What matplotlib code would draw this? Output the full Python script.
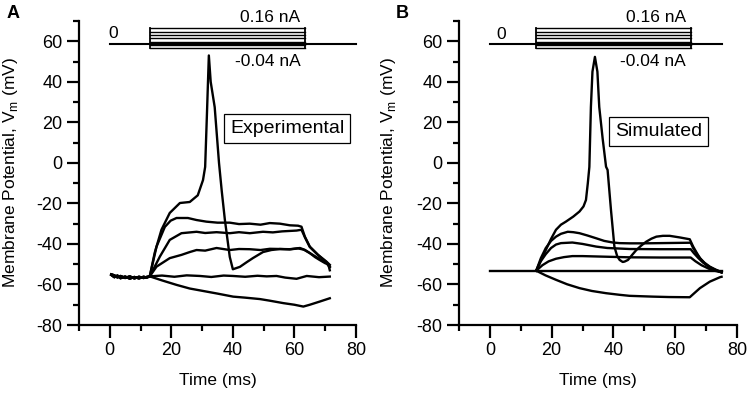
import matplotlib.pyplot as plt
from matplotlib.ticker import MultipleLocator

plt.rcParams["font.family"] = ["Liberation Sans", "DejaVu Sans"]
plt.rcParams["axes.unicode_minus"] = False

# stimulus protocol (nA) -- box levels and timing per panel
stim_levels = [-0.04, -0.007, 0.027, 0.06, 0.093, 0.127, 0.16]
stim_on = {"A": 13.0, "B": 15.0}
stim_off = {"A": 63.5, "B": 65.0}
stim_line_end = {"A": 80.0, "B": 75.0}

# experimental recordings (ms, mV)
exp_pre_t = [0.5, 1.5, 2.5, 3.5, 5.0, 6.5, 8.0, 9.5, 11.0, 12.0]
exp_pre_v1 = [-55.0, -55.5, -56.5, -55.8, -56.8, -56.0, -57.0, -56.2, -56.8, -56.3]
exp_pre_v2 = [-55.3, -56.4, -55.6, -56.9, -56.1, -57.1, -56.3, -57.0, -56.2, -56.6]

exp_spike_t = [13, 14.6, 16.8, 19.5, 22.8, 26, 28.6, 30.3, 31.0, 31.6, 32.2, 32.8, 34.1,
               35.5, 36.4, 37.4, 39, 40, 42.3, 44.5, 46.5, 49.8, 52.5, 55.3, 58.5, 61.8,
               63.5, 65, 66.7, 68.3, 70, 71, 71.5]
exp_spike_v = [-56, -44.4, -33, -24.7, -19.8, -19.3, -16, -8.5, -2, 25, 53, 40, 27.5,
               0, -14, -28, -46.4, -52.5, -51.3, -49, -47, -44, -43, -42.5, -42.6, -42,
               -43, -44.5, -46.5, -48, -49.5, -50, -53]

exp_step2_t = [13, 15.2, 17.9, 19.8, 21.7, 25.4, 28.2, 31.4, 35, 39, 42, 45.5, 49, 52,
               55.3, 58.5, 61.2, 62.3, 63.4, 65, 67.7, 70.4, 71.5]
exp_step2_v = [-56, -41.3, -31.6, -28.5, -27.2, -27.2, -28.2, -29, -29.5, -29.5, -30.2,
               -30, -30.5, -29.7, -30, -30.8, -31, -31.5, -36.4, -41.3, -45.4, -48.7, -50.3]

exp_step3_t = [13, 16.3, 19.5, 23.3, 28.2, 31, 34.7, 39, 42, 45.5, 49.8, 53, 56, 60.7,
               62.3, 63.5, 65, 67.7, 70.4, 71.5]
exp_step3_v = [-56, -46.2, -38, -34.7, -34, -34.6, -34.2, -34.7, -34.2, -34.7, -34, -34.3,
               -33.8, -33.4, -33, -37, -41.5, -45.5, -49, -51]

exp_step4_t = [13, 15.2, 19.5, 23.3, 26, 28.2, 31, 34.7, 39, 42, 45.5, 49, 52, 55.3, 58.5,
               61.2, 63, 65, 67.7, 70.4, 71.5]
exp_step4_v = [-56, -51.2, -47, -45.4, -44, -43, -43.3, -42, -43, -42.5, -42.6, -43, -42.4,
               -42.5, -42.7, -42.2, -42.8, -44.5, -47, -49.5, -51.5]

exp_zero_t = [13, 17, 21, 25, 29.3, 33, 37, 40, 44, 48, 51, 54.2, 57, 60.7, 64, 68, 71.5]
exp_zero_v = [-56, -55.6, -56.2, -55.5, -55.8, -56.3, -55.6, -55.8, -56.2, -55.7, -56,
              -55.8, -56.6, -57.2, -55.8, -56.4, -56.1]

exp_hyper_t = [13, 17, 21.7, 26, 31.4, 35, 40.1, 44, 48.8, 52, 56.4, 60, 62.9, 65, 68.3, 71.5]
exp_hyper_v = [-56, -58, -60.2, -62, -63.5, -64.5, -66, -66.5, -67.2, -68, -69.2, -70,
               -70.9, -70, -68.4, -66.8]

# simulated traces (ms, mV)
sim_rest_t = [0, 75]
sim_rest_v = [-53.2, -53.2]

sim_spike_t = [15, 16.5, 18.1, 19.8, 21.4, 23, 24.6, 27, 29, 30.3, 31.1, 31.7, 32.2, 32.7,
               33.2, 34, 34.8, 35.4, 36.5, 37.6, 38.1, 39.2, 40.3, 41.2, 42, 43, 43.6, 44.7,
               46, 47.4, 49, 50.6, 52.3, 53.9, 56, 58.2, 61.5, 64.7, 65.8, 67, 68, 69.5,
               71.2, 73, 74.5, 75]
sim_spike_v = [-53.2, -48, -43, -37.5, -33, -30.5, -29, -26.5, -24, -21.5, -18.3, -10, -2,
               27.6, 45, 52.3, 45, 27.6, 12, -1.9, -3.5, -23.3, -41.3, -46, -47.9, -48.9,
               -48.7, -47.9, -45.5, -43, -40.8, -38.9, -37.4, -36.4, -36, -36, -36.8, -37.7,
               -41.3, -44.5, -47, -49.3, -51.2, -52.6, -53.6, -54]

sim_step2_t = [15, 16.5, 18.1, 19.8, 21.4, 23, 25.2, 27, 29, 31.5, 34.4, 37, 39.8, 42, 45.2,
               50, 55, 60, 65, 65.8, 67, 68.5, 70, 72, 74, 75]
sim_step2_v = [-53.2, -47, -42, -38.5, -36.4, -35, -34, -34.2, -34.7, -35.8, -37.2, -38.5,
               -39.3, -39.6, -39.7, -39.7, -39.6, -39.5, -39.4, -42, -45, -48, -50.3, -52.3,
               -53.5, -54]

sim_step3_t = [15, 16.5, 18.1, 19.8, 21.4, 23, 26.7, 30, 34.4, 38, 45.2, 55, 65, 66, 67.5,
               69, 71, 73, 75]
sim_step3_v = [-53.2, -48.5, -45, -42, -40.3, -39.6, -39.3, -40, -41.3, -42, -42.5, -42.6,
               -42.6, -44.5, -47, -49.2, -51.3, -52.8, -54]

sim_step4_t = [15, 17, 19, 21.4, 24, 26.7, 30, 35, 45.2, 55, 65, 66.5, 68.5, 71, 73, 75]
sim_step4_v = [-53.2, -50.5, -48.6, -47.3, -46.5, -46, -46, -46.2, -46.6, -46.7, -46.7,
               -48.5, -50.5, -52.3, -53.3, -54]

sim_hyper_t = [15, 18, 21.4, 25, 29, 33, 37.6, 42, 45.2, 52.8, 58, 64.7, 65.5, 68, 71.2,
               74.5, 75]
sim_hyper_v = [-53.2, -55.5, -57.7, -59.9, -61.8, -63.2, -64.3, -65.1, -65.6, -66, -66.2,
               -66.3, -65.2, -61.8, -58.6, -56.4, -56.2]

exp_traces = [
    (exp_spike_t, exp_spike_v, exp_pre_v1),
    (exp_step2_t, exp_step2_v, exp_pre_v2),
    (exp_step3_t, exp_step3_v, exp_pre_v1),
    (exp_step4_t, exp_step4_v, exp_pre_v2),
    (exp_zero_t, exp_zero_v, exp_pre_v1),
    (exp_hyper_t, exp_hyper_v, exp_pre_v2),
]
sim_traces = [
    (sim_rest_t, sim_rest_v),
    (sim_spike_t, sim_spike_v),
    (sim_step2_t, sim_step2_v),
    (sim_step3_t, sim_step3_v),
    (sim_step4_t, sim_step4_v),
    (sim_hyper_t, sim_hyper_v),
]

# mapping of stimulus current onto the voltage axis for the inset protocol
STIM_BASE = 58.5
STIM_SCALE = 49.5  # mV per nA

fig = plt.figure(figsize=(7.5, 3.94), dpi=100)
ax_a = fig.add_axes([0.1053, 0.1751, 0.3693, 0.7716])
ax_b = fig.add_axes([0.612, 0.1751, 0.3707, 0.7716])

for ax in (ax_a, ax_b):
    ax.set_xlim(-10, 80)
    ax.set_ylim(-80, 70)
    ax.spines["top"].set_visible(False)
    ax.spines["right"].set_visible(False)
    ax.spines["left"].set_linewidth(1.6)
    ax.spines["bottom"].set_linewidth(1.6)
    ax.xaxis.set_minor_locator(MultipleLocator(10))
    ax.yaxis.set_minor_locator(MultipleLocator(10))
    ax.set_xticks([0, 20, 40, 60, 80])
    ax.set_yticks([-80, -60, -40, -20, 0, 20, 40, 60])
    ax.tick_params(which="major", direction="out", length=9, width=1.6, labelsize=13, pad=3)
    ax.tick_params(which="minor", direction="out", length=4.5, width=1.6)
    ax.set_xlabel("Time (ms)", fontsize=12.5)
    ax.set_ylabel(r"Membrane Potential, V$_\mathregular{m}$ (mV)", fontsize=12.5)
    ax.xaxis.set_label_coords(0.5, -0.158)

ax_a.yaxis.set_label_coords(-0.213, 0.5)
ax_b.yaxis.set_label_coords(-0.22, 0.5)

# Panel A: experimental
for t, v, pre in exp_traces:
    ax_a.plot(exp_pre_t + t, pre + v, color="black", lw=1.7, solid_joinstyle="round")

# Panel B: simulated
for t, v in sim_traces:
    ax_b.plot(t, v, color="black", lw=1.7, solid_joinstyle="round")

# stimulus protocol insets
for key, ax in (("A", ax_a), ("B", ax_b)):
    on, off = stim_on[key], stim_off[key]
    ax.plot([0, stim_line_end[key]], [STIM_BASE, STIM_BASE], color="black", lw=1.5, clip_on=False)
    for lvl in stim_levels:
        y = STIM_BASE + lvl * STIM_SCALE
        ax.plot([on, off], [y, y], color="black", lw=1.0, clip_on=False)
    ylo = STIM_BASE + stim_levels[0] * STIM_SCALE
    yhi = STIM_BASE + stim_levels[-1] * STIM_SCALE
    ax.plot([on, on], [ylo, yhi], color="black", lw=1.3, clip_on=False)
    ax.plot([off, off], [ylo, yhi], color="black", lw=1.3, clip_on=False)
    ax.text(off - 1.5, 71.5, "0.16 nA", ha="right", va="center", fontsize=12.5, clip_on=False)
    ax.text(off - 1.5, 50, "-0.04 nA", ha="right", va="center", fontsize=12.5)

ax_a.text(-0.5, 64, "0", ha="left", va="center", fontsize=12.5)
ax_b.text(2.0, 63.5, "0", ha="left", va="center", fontsize=12.5)

box_style = dict(boxstyle="square,pad=0.3", facecolor="white", edgecolor="black", lw=0.9)
ax_a.text(57.7, 17, "Experimental", ha="center", va="center", fontsize=14, bbox=box_style)
ax_b.text(54.5, 15.4, "Simulated", ha="center", va="center", fontsize=14, bbox=box_style)

fig.text(0.017, 0.967, "A", fontsize=13, fontweight="bold", ha="center", va="center")
fig.text(0.536, 0.967, "B", fontsize=13, fontweight="bold", ha="center", va="center")

fig.savefig("out.png", dpi=100)
